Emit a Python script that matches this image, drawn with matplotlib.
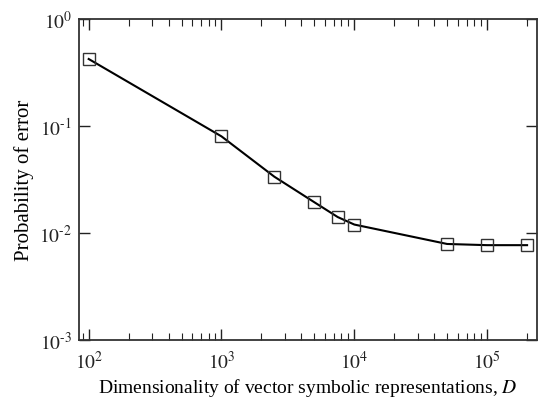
import matplotlib
matplotlib.use('Agg')
import matplotlib.pyplot as plt
from matplotlib.ticker import LogLocator, NullFormatter, FuncFormatter
import numpy as np

# Data
dims = [100, 1000, 2500, 5000, 7500, 10000, 50000, 100000, 200000]
p_error = [0.423, 0.080, 0.0336, 0.0194, 0.0141, 0.0120, 0.0079, 0.0077, 0.0077]

plt.rcParams['font.family'] = ['Liberation Serif', 'DejaVu Serif']
plt.rcParams['mathtext.fontset'] = 'stix'


def pow10(v, pos):
    e = int(round(np.log10(v)))
    if e < 0:
        return '$10^{\\text{-}%d}$' % (-e)
    return '$10^{%d}$' % e


fig = plt.figure(figsize=(5.38, 4.02), dpi=100)
ax = fig.add_axes([0.1468, 0.1517, 0.852, 0.7985])

ax.plot(dims, p_error, color='black', linewidth=1.5, marker='s',
        markersize=8, markerfacecolor='none', markeredgecolor='#333333',
        markeredgewidth=1.0)

ax.set_xscale('log')
ax.set_yscale('log')
ax.set_xlim(84.5, 2.39e5)
ax.set_ylim(1e-3, 1e0)

ax.xaxis.set_major_locator(LogLocator(base=10, numticks=10))
ax.xaxis.set_minor_locator(LogLocator(base=10, subs=range(2, 10), numticks=20))
ax.xaxis.set_minor_formatter(NullFormatter())
ax.xaxis.set_major_formatter(FuncFormatter(pow10))
ax.yaxis.set_major_locator(LogLocator(base=10, numticks=10))
ax.yaxis.set_minor_locator(LogLocator(base=10, subs=[], numticks=10))
ax.yaxis.set_major_formatter(FuncFormatter(pow10))

ax.tick_params(which='both', direction='in', top=True, right=True,
               labelsize=14, colors='#222222')
ax.tick_params(axis='x', which='major', length=8, width=1.0, pad=7)
ax.tick_params(axis='y', which='major', length=8, width=1.0, pad=5)
ax.tick_params(which='minor', length=5, width=0.8)

for s in ax.spines.values():
    s.set_linewidth(1.3)
    s.set_color('#333333')

ax.set_xlabel('Dimensionality of vector symbolic representations, $\\mathit{D}$',
              fontsize=14, labelpad=3)
ax.set_ylabel('Probability of error', fontsize=15, labelpad=4)

fig.savefig('out.png', dpi=100)
